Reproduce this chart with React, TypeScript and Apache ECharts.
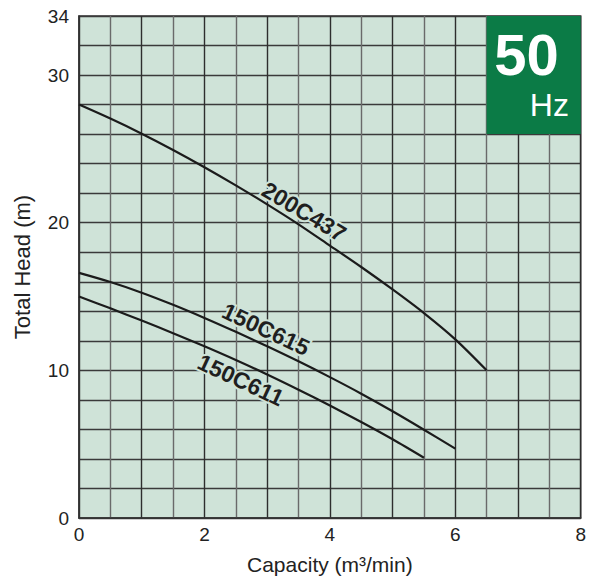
import React, { useEffect, useRef } from "react";
import * as echarts from "echarts";

const xTicks = [0, 2, 4, 6, 8];
const yTicks = [0, 10, 20, 30, 34];

const capacity200C437 = [0, 0.5, 1, 1.5, 2, 2.5, 3, 3.5, 4, 4.5, 5, 5.5, 6, 6.5];
const head200C437 = [28.0, 27.05, 26.03, 24.93, 23.76, 22.53, 21.24, 19.89, 18.45, 17.0, 15.48, 13.88, 12.1, 10.0];

const capacity150C615 = [0, 0.5, 1, 1.5, 2, 2.5, 3, 3.5, 4, 4.5, 5, 5.5, 6];
const head150C615 = [16.6, 15.98, 15.26, 14.44, 13.55, 12.61, 11.63, 10.61, 9.54, 8.42, 7.23, 5.98, 4.7];

const capacity150C611 = [0, 0.5, 1, 1.5, 2, 2.5, 3, 3.5, 4, 4.5, 5, 5.5];
const head150C611 = [15.0, 14.2, 13.37, 12.52, 11.63, 10.7, 9.72, 8.69, 7.62, 6.5, 5.33, 4.08];

const seriesNames = ["200C437", "150C615", "150C611"];
// label anchor points (data coordinates) and rotation
const labelX = [3.59, 2.98, 2.58];
const labelY = [20.75, 12.78, 9.35];
const labelRotate = [-31, -25, -25];

const BG = "#cfe3d8";
const GREEN = "#0b7b46";

function pairs(xs: number[], ys: number[]) {
  return xs.map((x, i) => [x, ys[i]]);
}

export default function App() {
  const ref = useRef<HTMLDivElement>(null);
  useEffect(() => {
    document.body.style.margin = "0";
    if (!ref.current) return;
    const chart = echarts.init(ref.current, undefined, { renderer: "svg" });
    const font = "'Liberation Sans', Arial, Helvetica, sans-serif";
    const datasets = [
      pairs(capacity200C437, head200C437),
      pairs(capacity150C615, head150C615),
      pairs(capacity150C611, head150C611),
    ];
    const series: any[] = datasets.map((d, i) => ({
      name: seriesNames[i],
      type: "line",
      data: d,
      smooth: 0.3,
      symbol: "none",
      z: 3,
      lineStyle: { color: "#1b1b1b", width: 2.2 },
      markPoint: {
        symbol: "circle",
        symbolSize: 0,
        silent: true,
        data: [
          {
            coord: [labelX[i], labelY[i]],
            label: {
              show: true,
              position: "inside",
              formatter: seriesNames[i],
              rotate: labelRotate[i],
              fontFamily: font,
              fontWeight: "bold",
              fontSize: 23,
              lineHeight: 20,
              color: "#1f1f1f",
              textBorderColor: BG,
              textBorderWidth: 4,
            },
          },
        ],
      },
    }));
    series.push({
      type: "line",
      data: [],
      z: 5,
      markArea: {
        silent: true,
        itemStyle: { color: GREEN, opacity: 1 },
        data: [[{ coord: [6.5, 34] }, { coord: [8, 26] }]],
        label: { show: false },
      },
      markPoint: {
        symbol: "circle",
        symbolSize: 0,
        silent: true,
        data: [
          {
            coord: [7.135, 31.37],
            label: {
              show: true,
              position: "inside",
              formatter: "50",
              fontFamily: font,
              fontWeight: "bold",
              fontSize: 58,
              lineHeight: 44,
              color: "#ffffff",
            },
          },
          {
            coord: [7.5, 27.95],
            label: {
              show: true,
              position: "inside",
              formatter: "Hz",
              fontFamily: font,
              fontSize: 32,
              lineHeight: 26,
              color: "#ffffff",
            },
          },
        ],
      },
    });

    chart.setOption({
      animation: false,
      grid: {
        left: 79,
        right: 6,
        top: 16,
        bottom: 62,
        show: true,
        backgroundColor: BG,
        borderColor: "#333",
        borderWidth: 1.5,
      },
      xAxis: {
        type: "value",
        min: 0,
        max: 8,
        interval: 0.5,
        name: "Capacity (m³/min)",
        nameLocation: "middle",
        nameGap: 36,
        nameTextStyle: { fontFamily: font, fontSize: 21, color: "#222" },
        axisLine: { show: true, lineStyle: { color: "#333", width: 1.5 } },
        axisTick: { show: false },
        axisLabel: {
          fontFamily: font,
          fontSize: 19,
          color: "#222",
          margin: 7,
          formatter: (v: number) => (xTicks.includes(v) ? String(v) : ""),
        },
        splitLine: {
          show: true,
          lineStyle: { color: ["#2e2e2e", "#6a6a6a"], width: 1.4 },
        },
      },
      yAxis: {
        type: "value",
        min: 0,
        max: 34,
        interval: 2,
        name: "Total Head (m)",
        nameLocation: "middle",
        nameGap: 46,
        nameTextStyle: { fontFamily: font, fontSize: 22, color: "#222" },
        axisLine: { show: true, lineStyle: { color: "#333", width: 1.5 } },
        axisTick: { show: false },
        axisLabel: {
          fontFamily: font,
          fontSize: 19,
          color: "#222",
          margin: 10,
          formatter: (v: number) => (yTicks.includes(v) ? String(v) : ""),
        },
        splitLine: {
          show: true,
          lineStyle: { color: "#3a3a3a", width: 1.4 },
        },
      },
      series,
    });
    return () => chart.dispose();
  }, []);
  return <div ref={ref} style={{ width: 589, height: 580 }} />;
}
